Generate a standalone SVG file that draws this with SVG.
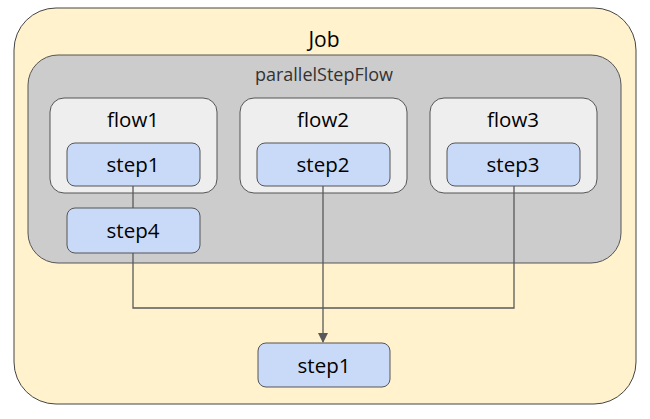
<svg xmlns="http://www.w3.org/2000/svg" width="650" height="419" viewBox="0 0 650 419">
<style>
text{font-family:"Open Sans","Liberation Sans",Arial,sans-serif;text-anchor:middle;fill:#000}
.flow{fill:#eeeeee;stroke:#555;stroke-width:1}
.step{fill:#c9daf8;stroke:#555;stroke-width:1}
.c{fill:none;stroke:#595959;stroke-width:1.3}
.t{font-size:20.5px}
</style>
<defs><marker id="a" markerWidth="10" markerHeight="10" refX="9" refY="5" orient="auto" markerUnits="userSpaceOnUse"><path d="M0,0L10,5L0,10z" fill="#595959"/></marker></defs>
<g id="job"><rect x="14" y="8" width="622" height="396" rx="42" fill="#fff2cc" stroke="#444"/><text x="324" y="47" style="font-size:21px">Job</text></g>
<g id="parallelStepFlow"><rect x="28" y="55" width="593" height="208" rx="30" fill="#cccccc" stroke="#555"/><text x="324" y="81" style="font-size:18px;fill:#333">parallelStepFlow</text></g>
<g id="flow1"><rect class="flow" x="50" y="98" width="167" height="95" rx="14"/><text class="t" x="133" y="127">flow1</text></g>
<g id="flow2"><rect class="flow" x="240" y="98" width="167" height="95" rx="14"/><text class="t" x="323" y="127">flow2</text></g>
<g id="flow3"><rect class="flow" x="430" y="98" width="167" height="95" rx="14"/><text class="t" x="513" y="127">flow3</text></g>
<g id="connectors">
<path class="c" d="M133,186V208"/>
<path class="c" d="M133,253V308H514V186"/>
<path class="c" d="M323,186V342" marker-end="url(#a)"/>
</g>
<g id="step1"><rect class="step" x="67" y="143" width="133" height="43" rx="8"/><text class="t" x="133" y="172">step1</text></g>
<g id="step2"><rect class="step" x="257" y="143" width="133" height="43" rx="8"/><text class="t" x="323" y="172">step2</text></g>
<g id="step3"><rect class="step" x="447" y="143" width="133" height="43" rx="8"/><text class="t" x="513" y="172">step3</text></g>
<g id="step4"><rect class="step" x="67" y="208" width="133" height="45" rx="8"/><text class="t" x="133" y="238">step4</text></g>
<g id="step1b"><rect class="step" x="258" y="343" width="132" height="44" rx="8"/><text class="t" x="324" y="373">step1</text></g>
</svg>
